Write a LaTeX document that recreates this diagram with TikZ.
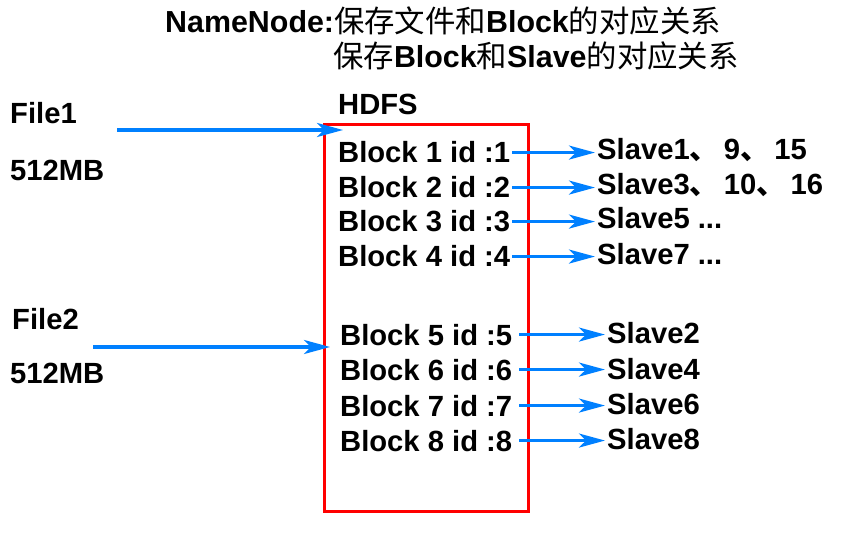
\documentclass[tikz,border=0pt]{standalone}
\usepackage{fontspec}
\setmainfont{Liberation Sans}
\newfontfamily\cjk{Noto Sans CJK SC}
\usetikzlibrary{arrows.meta}
\definecolor{arrblue}{RGB}{0,128,255}
\begin{document}
\begin{tikzpicture}[x=1pt,y=-1pt,
  lbl/.style={anchor=base west, inner sep=2pt, font=\fontsize{29.2}{31}\selectfont\bfseries},
  ttl/.style={anchor=base west, inner sep=0pt, font=\fontsize{30.4}{32}\selectfont},
  arr/.style={draw=arrblue, line width=3.2pt, -{Stealth[length=26pt,width=14pt,inset=7pt]}},
  hdfsbox/.style={draw=red, line width=3pt, inner sep=0pt}]
\useasboundingbox (0,0) rectangle (868,540);

% title
\node[ttl] (t1) at (165,33) {{\bfseries NameNode:}{\cjk 保存文件和}{\bfseries Block}{\cjk 的对应关系}};
\node[ttl] (t2) at (333,68) {{\cjk 保存}{\bfseries Block}{\cjk 和}{\bfseries Slave}{\cjk 的对应关系}};

% files
\node[lbl] (file1) at (8,124) {File1};
\node[lbl] (size1) at (8,181) {512MB};
\node[lbl] (file2) at (10,329) {File2};
\node[lbl] (size2) at (8,383) {512MB};

% HDFS box
\node[lbl] (hdfs) at (336,115) {HDFS};
\node[hdfsbox, minimum width=204pt, minimum height=387pt, anchor=north west] (box) at (323,123) {};

% blocks
\node[lbl] (b1) at (336,163) {Block 1 id :1};
\node[lbl] (b2) at (336,198) {Block 2 id :2};
\node[lbl] (b3) at (336,232) {Block 3 id :3};
\node[lbl] (b4) at (336,267) {Block 4 id :4};
\node[lbl] (b5) at (338,345) {Block 5 id :5};
\node[lbl] (b6) at (338,380) {Block 6 id :6};
\node[lbl] (b7) at (338,416) {Block 7 id :7};
\node[lbl] (b8) at (338,451) {Block 8 id :8};

% slaves
\node[lbl] (s1) at (595,160) {Slave1{\cjk 、}\hspace{5pt}9{\cjk 、}\hspace{5pt}15};
\node[lbl] (s3) at (595,195) {Slave3{\cjk 、}\hspace{5pt}10{\cjk 、}\hspace{5pt}16};
\node[lbl] (s5) at (595,229) {Slave5 ...};
\node[lbl] (s7) at (595,265) {Slave7 ...};
\node[lbl] (s2) at (605,343) {Slave2};
\node[lbl] (s4) at (605,379) {Slave4};
\node[lbl] (s6) at (605,414) {Slave6};
\node[lbl] (s8) at (605,449) {Slave8};

% file arrows
\coordinate (f1a) at (117,130);
\coordinate (f1b) at (343,130);
\coordinate (f2a) at (93,347);
\coordinate (f2b) at (330,347);
\draw[arr] (f1a) -- (f1b);
\draw[arr] (f2a) -- (f2b);

% block arrows
\foreach \b/\s in {b1/s1,b2/s3,b3/s5,b4/s7}
  \draw[arr] (\b.east) -- (\s.west |- \b.east);
\foreach \b/\s in {b5/s2,b6/s4,b7/s6,b8/s8}
  \draw[arr, shorten <=5pt] (\b.east) -- (\s.west |- \b.east);
\end{tikzpicture}
\end{document}
